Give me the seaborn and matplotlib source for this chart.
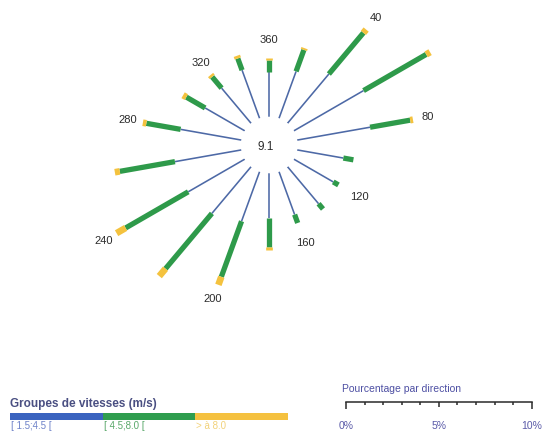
import numpy as np
import pandas as pd
import matplotlib
matplotlib.use("Agg")
import matplotlib.pyplot as plt
import seaborn as sns

# Wind directions (degrees) and share of observations (%) per speed group
directions = [20, 40, 60, 80, 100, 120, 140, 160, 180,
              200, 220, 240, 260, 280, 300, 320, 340, 360]
pct_low = [2.69, 3.46, 4.33, 3.98, 2.52, 2.45, 2.60, 2.46, 2.42,
           2.84, 3.28, 3.51, 3.63, 3.32, 2.46, 2.47, 2.76, 2.42]    # [1.5;4.5[
pct_mid = [1.23, 2.89, 3.89, 2.19, 0.55, 0.32, 0.37, 0.48, 1.56,
           3.18, 3.88, 3.89, 3.01, 1.87, 1.17, 0.79, 0.67, 0.63]    # [4.5;8.0[
pct_high = [0.10, 0.23, 0.24, 0.15, 0.0, 0.0, 0.0, 0.0, 0.15,
            0.46, 0.52, 0.56, 0.27, 0.19, 0.20, 0.13, 0.15, 0.09]   # > 8.0
calm_pct = 9.1
label_directions = [40, 80, 120, 160, 200, 240, 280, 320, 360]
speed_groups = ["[ 1.5;4.5 [", "[ 4.5;8.0 [", "> à 8.0"]
scale_ticks = [0, 5, 10]

sns.set_theme(style="white")
plt.rcParams["font.family"] = ["Liberation Sans", "DejaVu Sans"]

group_colors = ["#4d69a6", "#2e9a4a", "#f4c23e"]
bar_colors = ["#3a63bf", "#2f9d4e", "#f5c13f"]
group_widths = [1.15, 3.8, 4.8]

W, H = 546, 433
fig = plt.figure(figsize=(W / 100, H / 100), dpi=100)

# polar rose geometry (pixels)
px_per_pct = 18.6
hole = 28.3 / px_per_pct
rmax = 9.0
R_px = (rmax + hole) * px_per_pct
cx, cy = 269.3, 145.0
ax = fig.add_axes([(cx - R_px) / W, (H - cy - R_px) / H, 2 * R_px / W, 2 * R_px / H],
                  projection="polar")

df = pd.DataFrame({"direction": directions, "low": pct_low,
                   "mid": pct_mid, "high": pct_high})
df["theta"] = np.deg2rad(df["direction"])
cols = ["low", "mid", "high"]
cum = df[cols].cumsum(axis=1)
start = pd.concat([pd.Series(0.0, index=df.index), cum["low"], cum["mid"]], axis=1)
start.columns = cols

for k, col in enumerate(cols):
    seg = df[df[col] > 0]
    long = pd.concat([
        pd.DataFrame({"direction": seg["direction"], "theta": seg["theta"],
                      "r": start.loc[seg.index, col]}),
        pd.DataFrame({"direction": seg["direction"], "theta": seg["theta"],
                      "r": cum.loc[seg.index, col]}),
    ]).sort_values(["direction", "r"])
    sns.lineplot(data=long, x="theta", y="r", units="direction", estimator=None,
                 sort=False, color=group_colors[k], linewidth=group_widths[k],
                 solid_capstyle="butt", legend=False, ax=ax)

totals = cum["high"]
for d in label_directions:
    i = directions.index(d)
    r_lab = max(totals[i] + 0.82, 4.1)
    ax.text(np.deg2rad(d), r_lab, str(d), ha="center", va="center",
            fontsize=8, color="#2b2b2b")

ax.text(0.49, 0.495, f"{calm_pct:.1f}", transform=ax.transAxes, ha="center",
        va="center", fontsize=8.5, color="#2b2b2b")

ax.set_theta_zero_location("N")
ax.set_theta_direction(-1)
ax.set_xlim(0, 2 * np.pi)
ax.set_ylim(0, rmax)
ax.set_rorigin(-hole)
ax.set_xlabel("")
ax.set_ylabel("")
ax.axis("off")
ax.patch.set_alpha(0)

# speed group legend
fig.text(10 / W, (H - 404) / H, "Groupes de vitesses (m/s)", fontsize=8.5,
         fontweight="bold", color="#4a4f82", va="center", ha="left")
lax = fig.add_axes([10 / W, (H - 420) / H, 278 / W, 7.5 / H])
lax.barh([0, 0, 0], [1, 1, 1], left=[0, 1, 2], height=1.0, color=bar_colors,
         linewidth=0)
lax.set_xlim(0, 3)
lax.set_ylim(-0.5, 0.5)
lax.axis("off")
label_colors = ["#6f83c9", "#5aa86a", "#f2d27a"]
for k, name in enumerate(speed_groups):
    lax.text(k + 0.01, -1.3, name, ha="left", va="center", fontsize=7,
             color=label_colors[k], clip_on=False)

# percentage scale bar
fig.text(342 / W, (H - 389) / H, "Pourcentage par direction", fontsize=7.5,
         color="#4d4fa3", va="center", ha="left")
sax = fig.add_axes([346 / W, (H - 401.7 - 12) / H, 185.7 / W, 12 / H])
sax.set_xlim(0, 10)
sax.set_ylim(-12, 0)
sax.axis("off")
sax.plot([0, 10], [0, 0], color="#2a2a2a", linewidth=1.1, clip_on=False,
         solid_capstyle="projecting")
tick_pos = np.arange(0, 11)
tick_len = [7.6 if t in (0, 10) else (5.6 if t == 5 else 3.4) for t in tick_pos]
sax.vlines(tick_pos, [-l for l in tick_len], 0, color="#2a2a2a", linewidth=1.1,
           clip_on=False)
for t in scale_ticks:
    sax.text(t, -24.5, f"{t}%", ha="center", va="center", fontsize=7.5,
             color="#5a5aa8", clip_on=False)

fig.savefig("out.png", dpi=100)
